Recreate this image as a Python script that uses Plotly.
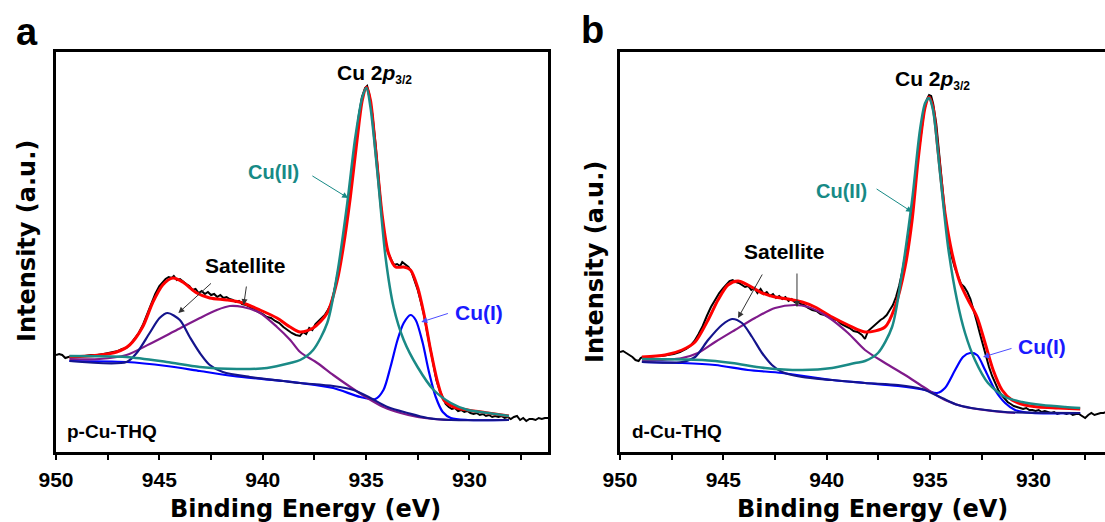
import plotly.graph_objects as go

# ---------------- Panel a (p-Cu-THQ) ----------------
a_exp_be = [950.0, 949.85, 949.7, 949.55, 949.4, 949.2, 948.9, 948.6, 948.3, 948.0, 947.7, 947.4, 947.2, 947.0,
            946.8, 946.6, 946.4, 946.2, 946.0, 945.8, 945.6, 945.4, 945.2, 945.0, 944.85, 944.7, 944.55, 944.4,
            944.3, 944.15, 944.0, 943.85, 943.7, 943.55, 943.4, 943.25, 943.1, 942.95, 942.8, 942.65, 942.5,
            942.35, 942.2, 942.05, 941.9, 941.75, 941.6, 941.45, 941.3, 941.15, 941.0, 940.8, 940.6, 940.4,
            940.2, 940.0, 939.8, 939.6, 939.4, 939.2, 939.0, 938.8, 938.6, 938.4, 938.2, 938.05, 937.9, 937.75,
            937.6, 937.45, 937.3, 937.15, 937.0, 936.85, 936.7, 936.55, 936.4, 936.25, 936.1, 935.95, 935.8,
            935.65, 935.5, 935.35, 935.2, 935.05, 934.95, 934.85, 934.7, 934.55, 934.4, 934.25, 934.1, 933.95,
            933.8, 933.65, 933.5, 933.35, 933.25, 933.1, 932.95, 932.8, 932.65, 932.5, 932.35, 932.2, 932.05,
            931.9, 931.75, 931.6, 931.45, 931.3, 931.15, 931.0, 930.85, 930.7, 930.55, 930.4, 930.25, 930.1,
            929.95, 929.8, 929.65, 929.5, 929.35, 929.2, 929.05, 928.9, 928.75, 928.6, 928.45, 928.3, 928.15,
            928.0, 927.85, 927.7, 927.55, 927.4, 927.25, 927.1, 926.95, 926.8, 926.65, 926.5, 926.35, 926.2]
a_exp_int = [97, 98, 97, 94, 95, 96, 96, 96, 97, 97, 98, 99, 100, 101,
             103, 104, 108, 113, 119, 127, 137, 148, 158, 166, 170, 173, 175, 174,
             176, 172, 173, 170, 168, 166, 162, 163, 159, 161, 158, 160, 157,
             158, 155, 157, 154, 155, 153, 152, 150, 151, 148, 147, 145, 142,
             140, 138, 135, 134, 131, 129, 125, 122, 119, 117, 116, 120, 118, 124,
             122, 128, 131, 133, 137, 142, 148, 160, 175, 192, 210, 233, 258,
             283, 313, 337, 355, 364, 366, 358, 338, 310, 275, 240, 215, 200,
             193, 187, 188, 186, 190, 187, 185, 180, 172, 162, 150, 137, 120,
             103, 86, 72, 62, 54, 48, 45, 43, 44, 41, 42, 40, 41,
             39, 38, 39, 37, 38, 36, 37, 35, 36, 35, 36, 34, 35,
             33, 35, 36, 32, 34, 31, 33, 33, 32, 34, 33, 34, 34]

a_fit_be = [949.35, 947.9, 947.07, 946.44, 945.81, 945.33, 944.84, 944.35, 943.87, 943.19, 942.56, 941.73,
            940.96, 940.13, 939.31, 938.67, 938.19, 937.56, 936.88, 936.39, 936.1, 935.76, 935.42, 935.18,
            934.98, 934.79, 934.55, 934.21, 933.92, 933.57, 933.18, 932.85, 932.51, 932.21, 931.88, 931.53,
            931.24, 930.76, 930.08, 929.11, 928.09]
a_fit_int = [95, 97, 100, 107, 125, 149, 167, 174, 170, 159, 154, 152,
             149, 142, 134, 125, 120, 124, 139, 172, 205, 255, 315, 352,
             365, 352, 305, 235, 199, 185, 185, 182, 165, 139, 102, 69,
             52, 45, 42, 39, 36]

a_cu2_be = [949.35, 946.59, 944.65, 943.04, 941.25, 939.79, 938.67, 938.19, 937.56, 936.88, 936.39, 935.91,
            935.52, 935.18, 934.98, 934.79, 934.45, 934.06, 933.67, 933.18, 932.51, 931.73, 930.9, 930.08,
            929.11, 928.09]
a_cu2_int = [96, 95, 90, 85, 83, 84, 89, 92, 102, 129, 179, 249,
             315, 355, 364, 345, 279, 195, 145, 112, 85, 62, 49, 42,
             39, 36]

a_cu1_be = [949.35, 946.59, 944.65, 943.04, 941.44, 939.01, 938.19, 936.59, 935.28, 934.55, 934.16, 933.82,
            933.48, 933.18, 932.85, 932.6, 932.26, 931.98, 931.63, 931.29, 930.9, 930.08, 928.09]
a_cu1_int = [91, 90, 86, 81, 76, 71, 69, 64, 55, 53, 62, 85,
             112, 129, 137, 132, 109, 82, 55, 40, 34, 32, 32]

a_sat1_be = [949.35, 946.59, 946.1, 945.47, 944.99, 944.6, 944.01, 943.53, 943.04, 942.56, 941.93, 940.62,
             939.01, 938.19, 936.59, 935.61, 934.79, 933.96, 932.99, 932.02, 930.9, 928.09]
a_sat1_int = [91, 90, 99, 119, 134, 139, 132, 115, 99, 87, 80, 75,
              71, 69, 66, 62, 54, 45, 39, 34, 32, 32]

a_sat2_be = [949.35, 947.9, 946.59, 945.47, 944.16, 943.04, 942.22, 941.59, 940.96, 940.13, 939.31, 938.67,
             938.19, 937.36, 936.59, 935.76, 934.94, 934.16, 933.33, 932.51, 931.73, 930.9]
a_sat2_int = [93, 93, 97, 108, 122, 134, 142, 146, 145, 139, 125, 112,
              100, 89, 77, 65, 54, 45, 39, 35, 33, 32]

# ---------------- Panel b (d-Cu-THQ) ----------------
b_exp_be = [950.0, 949.85, 949.7, 949.55, 949.4, 949.25, 949.1, 949.0, 948.9, 948.6, 948.3, 948.0, 947.7, 947.4,
            947.1, 946.8, 946.6, 946.4, 946.2, 946.0, 945.8, 945.6, 945.4, 945.2, 945.0, 944.85, 944.7, 944.55,
            944.4, 944.25, 944.1, 943.95, 943.8, 943.65, 943.5, 943.35, 943.2, 943.05, 942.9, 942.75, 942.6,
            942.45, 942.3, 942.15, 942.0, 941.85, 941.7, 941.55, 941.4, 941.25, 941.1, 940.9, 940.7, 940.5,
            940.3, 940.1, 939.9, 939.7, 939.5, 939.3, 939.1, 938.9, 938.7, 938.5, 938.3, 938.15, 938.0, 937.85,
            937.7, 937.55, 937.4, 937.25, 937.1, 936.95, 936.8, 936.65, 936.5, 936.35, 936.2, 936.05, 935.9,
            935.75, 935.6, 935.45, 935.3, 935.15, 935.05, 934.95, 934.85, 934.7, 934.55, 934.4, 934.25, 934.1,
            933.95, 933.8, 933.65, 933.5, 933.35, 933.2, 933.05, 932.9, 932.75, 932.6, 932.45, 932.3, 932.15,
            932.0, 931.85, 931.7, 931.55, 931.4, 931.25, 931.1, 930.95, 930.8, 930.65, 930.5, 930.35, 930.2,
            930.05, 929.9, 929.75, 929.6, 929.45, 929.3, 929.15, 929.0, 928.85, 928.7, 928.55, 928.4, 928.25,
            928.1, 927.95, 927.8, 927.65, 927.5, 927.35, 927.2, 927.05, 926.9, 926.75, 926.6, 926.54]
b_exp_int = [100, 101, 99, 97, 95, 92, 91, 94, 95, 95, 96, 96, 97, 98,
             100, 103, 106, 111, 118, 126, 136, 145, 152, 159, 164, 168, 171, 172,
             170, 169, 167, 165, 166, 162, 164, 159, 163, 158, 160, 156, 158,
             154, 156, 153, 155, 151, 153, 150, 151, 148, 147, 144, 142, 141,
             138, 137, 135, 133, 132, 128, 126, 124, 121, 120, 117, 113, 121, 124,
             127, 130, 132, 134, 137, 142, 147, 155, 166, 180, 196, 215, 238,
             262, 292, 318, 340, 353, 357, 356, 348, 328, 295, 262, 232, 210,
             195, 184, 175, 168, 165, 160, 153, 143, 131, 119, 107, 96, 85,
             76, 68, 62, 57, 53, 50, 48, 46, 45, 44, 43, 44, 42,
             42, 41, 42, 40, 41, 40, 39, 40, 38, 39, 39, 38, 39,
             37, 38, 38, 36, 34, 37, 39, 37, 38, 39, 39, 40]

b_fit_be = [948.94, 947.82, 947.0, 946.37, 945.74, 945.26, 944.78, 944.29, 943.81, 943.13, 942.5, 941.87,
            941.19, 940.57, 939.74, 938.97, 938.15, 937.18, 936.7, 936.21, 935.87, 935.58, 935.24, 935.05,
            934.86, 934.62, 934.28, 933.94, 933.55, 933.16, 932.73, 932.34, 931.95, 931.52, 931.04, 930.41,
            929.78, 928.8, 927.74]
b_fit_int = [95, 97, 102, 110, 132, 152, 167, 171, 167, 159, 155, 153,
             150, 145, 135, 127, 120, 125, 145, 185, 232, 292, 345, 355,
             345, 302, 239, 199, 169, 152, 135, 109, 82, 62, 52, 47,
             45, 44, 43]

b_cu2_be = [948.94, 946.03, 944.58, 942.98, 941.19, 939.74, 938.63, 938.15, 937.52, 936.84, 936.36, 935.87,
            935.49, 935.24, 935.05, 934.86, 934.52, 934.13, 933.7, 933.31, 932.83, 932.2, 931.37, 930.55,
            929.58, 928.47, 927.74]
b_cu2_int = [93, 92, 89, 84, 82, 84, 89, 91, 99, 125, 179, 252,
             322, 349, 354, 342, 279, 205, 152, 119, 92, 69, 55, 50,
             47, 45, 44]

b_cu1_be = [948.94, 947.0, 945.4, 943.81, 942.16, 939.74, 938.15, 936.55, 935.24, 934.66, 934.28, 933.79,
            933.41, 933.07, 932.73, 932.34, 931.86, 931.37, 930.89, 930.07, 927.74]
b_cu1_int = [90, 89, 87, 82, 79, 72, 69, 66, 62, 59, 64, 82,
             95, 99, 97, 82, 62, 49, 42, 39, 39]

b_sat1_be = [948.94, 947.0, 946.37, 945.74, 945.07, 944.58, 944.1, 943.61, 943.13, 942.65, 942.16, 941.19,
             939.74, 938.15, 936.55, 935.39, 934.42, 933.65, 932.68, 931.37, 927.74]
b_sat1_int = [90, 90, 95, 112, 127, 133, 129, 115, 99, 87, 80, 75,
              72, 69, 67, 63, 54, 47, 43, 40, 39]

b_sat2_be = [948.94, 947.0, 946.23, 945.4, 944.44, 943.47, 942.5, 941.53, 940.9, 939.94, 938.97, 938.15,
             937.18, 936.21, 935.24, 934.28, 933.31, 932.0, 930.89]
b_sat2_int = [91, 94, 99, 110, 122, 134, 144, 147, 145, 135, 119, 102,
              89, 77, 64, 52, 45, 41, 39]

# tick labels (major every 5 eV, labelled; minor every 2.5 eV)
tick_vals = [950, 945, 940, 935, 930]
tick_text = ["950", "945", "940", "935", "930"]

C_EXP = "#000000"
C_FIT = "#ff0000"
C_CU2 = "#1a8a86"
C_CU1 = "#0000ff"
C_SAT1 = "#14148c"
C_SAT2 = "#7f1a8a"

fig = go.Figure()

def add_panel(xa, ya, exp, fit, cu2, cu1, sat1, sat2):
    fig.add_trace(go.Scatter(x=exp[0], y=exp[1], mode="lines", xaxis=xa, yaxis=ya,
                             line=dict(color=C_EXP, width=2), showlegend=False))
    fig.add_trace(go.Scatter(x=fit[0], y=fit[1], mode="lines", xaxis=xa, yaxis=ya,
                             line=dict(color=C_FIT, width=3, shape="spline", smoothing=0.8), showlegend=False))
    fig.add_trace(go.Scatter(x=cu1[0], y=cu1[1], mode="lines", xaxis=xa, yaxis=ya,
                             line=dict(color=C_CU1, width=2.2, shape="spline", smoothing=0.8), showlegend=False))
    fig.add_trace(go.Scatter(x=sat2[0], y=sat2[1], mode="lines", xaxis=xa, yaxis=ya,
                             line=dict(color=C_SAT2, width=2.2, shape="spline", smoothing=0.8), showlegend=False))
    fig.add_trace(go.Scatter(x=sat1[0], y=sat1[1], mode="lines", xaxis=xa, yaxis=ya,
                             line=dict(color=C_SAT1, width=2.2, shape="spline", smoothing=0.8), showlegend=False))
    fig.add_trace(go.Scatter(x=cu2[0], y=cu2[1], mode="lines", xaxis=xa, yaxis=ya,
                             line=dict(color=C_CU2, width=2.5, shape="spline", smoothing=0.8), showlegend=False))

add_panel("x", "y", (a_exp_be, a_exp_int), (a_fit_be, a_fit_int), (a_cu2_be, a_cu2_int),
          (a_cu1_be, a_cu1_int), (a_sat1_be, a_sat1_int), (a_sat2_be, a_sat2_int))
add_panel("x2", "y2", (b_exp_be, b_exp_int), (b_fit_be, b_fit_int), (b_cu2_be, b_cu2_int),
          (b_cu1_be, b_cu1_int), (b_sat1_be, b_sat1_int), (b_sat2_be, b_sat2_int))

W, H = 1105, 522
ydom = [1 - 452 / H, 1 - 52 / H]
tickfont = dict(family="Liberation Sans, Arial", size=21, color="black", weight="bold")

def xaxis(dom, rng, anchor):
    return dict(domain=dom, range=rng, anchor=anchor, showline=True, linecolor="black", linewidth=2.5,
                mirror=True, ticks="outside", ticklen=5, tickwidth=2, tickcolor="black",
                tickmode="array", tickvals=tick_vals, ticktext=tick_text, ticklabelstandoff=2,
                minor=dict(tickmode="array", tickvals=[947.5, 942.5, 937.5, 932.5, 927.5],
                           ticks="outside", ticklen=5, tickwidth=2, tickcolor="black", showgrid=False),
                tickfont=tickfont, showgrid=False, zeroline=False, automargin=False)

def yaxis(anchor, mirror):
    return dict(domain=ydom, range=[0, 400], anchor=anchor, showline=True, linecolor="black", linewidth=2.5,
                mirror=mirror, showticklabels=False, ticks="", showgrid=False, zeroline=False,
                automargin=False)

annotations = []

def txt(text, x, y, xref, yref, size, color="black", family="Liberation Sans, Arial", angle=0,
        xanchor="center", yanchor="middle"):
    annotations.append(dict(text=text, x=x, y=y, xref=xref, yref=yref, showarrow=False,
                            font=dict(family=family, size=size, color=color, weight="bold"),
                            textangle=angle, xanchor=xanchor, yanchor=yanchor))

def arrow(x, y, ax, ay, xref, yref, color):
    annotations.append(dict(text="", x=x, y=y, ax=ax, ay=ay, xref=xref, yref=yref, axref=xref, ayref=yref,
                            showarrow=True, arrowhead=2, arrowsize=1.2, arrowwidth=1, arrowcolor=color))

CU2P = "Cu 2<i>p</i><sub><span style='font-size:12px'>3/2</span></sub>"

# panel a labels
txt("a", 27 / W, 1 - 32 / H, "paper", "paper", 38)
txt("Intensity (a.u.)", 27 / W, 1 - 241 / H, "paper", "paper", 24, family="DejaVu Sans", angle=-90)
txt("Binding Energy (eV)", 305 / W, 1 - 509 / H, "paper", "paper", 24, family="DejaVu Sans")
txt(CU2P, 934.6, 378, "x", "y", 21)
txt("Cu(II)", 939.5, 280, "x", "y", 20, color="#178a86")
txt("Satellite", 940.83, 187, "x", "y", 21)
txt("Cu(I)", 929.56, 140, "x", "y", 21, color="#1a1aff")
txt("p-Cu-THQ", 65 / W, 1 - 431 / H, "paper", "paper", 19, xanchor="left")
arrow(935.87, 254, 937.67, 277, "x", "y", "#178a86")
arrow(944.08, 139, 942.43, 170, "x", "y", "#333333")
arrow(940.92, 147, 940.78, 167, "x", "y", "#333333")
arrow(932.33, 130, 930.97, 139, "x", "y", "#4d4dff")

# panel b labels
txt("b", 592 / W, 1 - 30 / H, "paper", "paper", 38)
txt("Intensity (a.u.)", 595 / W, 1 - 262 / H, "paper", "paper", 24, family="DejaVu Sans", angle=-90)
txt("Binding Energy (eV)", 872 / W, 1 - 509 / H, "paper", "paper", 24, family="DejaVu Sans")
txt(CU2P, 934.9, 372, "x2", "y2", 21)
txt("Cu(II)", 939.31, 261, "x2", "y2", 20, color="#178a86")
txt("Satellite", 942.02, 200, "x2", "y2", 21)
txt("Cu(I)", 929.58, 106, "x2", "y2", 21, color="#1a1aff")
txt("d-Cu-THQ", 630 / W, 1 - 431 / H, "paper", "paper", 19, xanchor="left")
arrow(935.87, 240, 937.66, 264, "x2", "y2", "#178a86")
arrow(944.29, 134, 943.08, 179, "x2", "y2", "#333333")
arrow(941.44, 145, 941.44, 180, "x2", "y2", "#333333")
arrow(932.44, 95, 930.99, 104, "x2", "y2", "#4d4dff")

fig.update_layout(
    width=W, height=H, autosize=False,
    margin=dict(l=0, r=0, t=0, b=0, pad=0, autoexpand=False),
    paper_bgcolor="white", plot_bgcolor="white",
    xaxis=xaxis([56 / W, 548 / W], [950, 926.2], "y"),
    xaxis2=xaxis([620 / W, 1.0], [950, 926.54], "y2"),
    yaxis=yaxis("x", True),
    yaxis2=yaxis("x2", False),
    annotations=annotations,
    showlegend=False,
)

fig.write_html("out.html")
